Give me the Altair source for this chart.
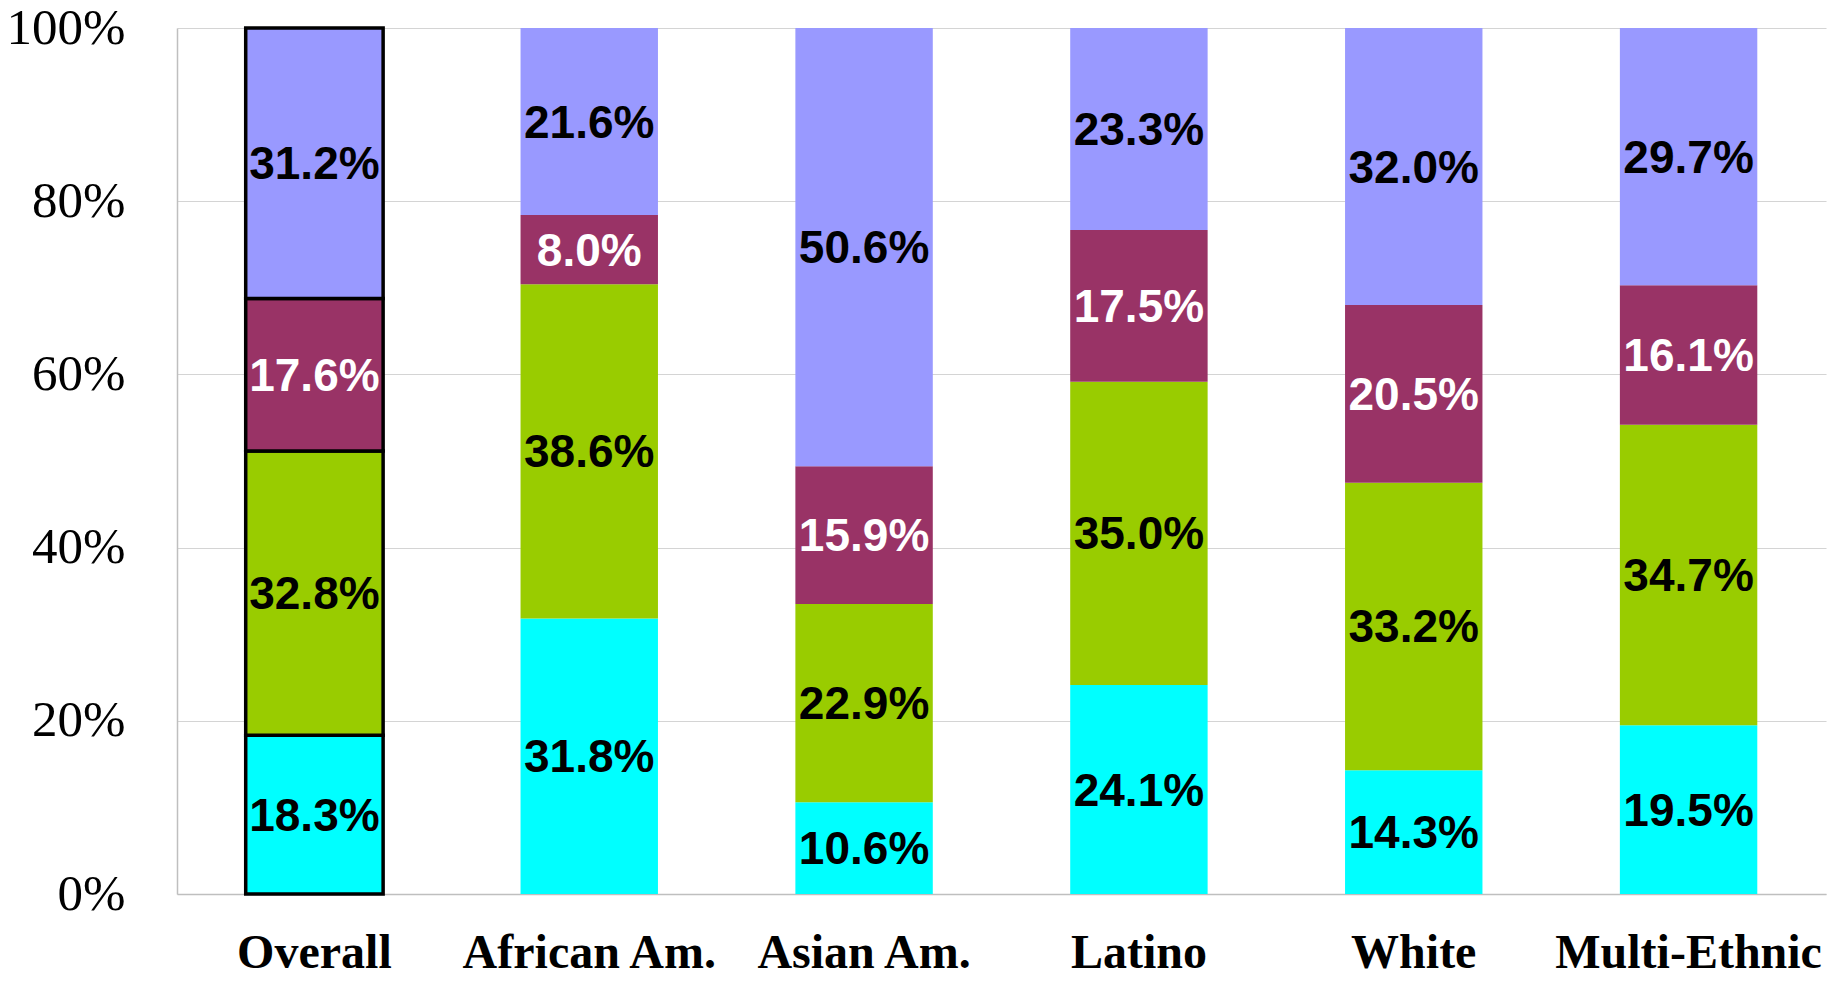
import altair as alt
import pandas as pd

categories = ["Overall", "African Am.", "Asian Am.", "Latino", "White", "Multi-Ethnic"]
series = ["Group 1", "Group 2", "Group 3", "Group 4"]
colors = ["#00FFFF", "#99CC00", "#993366", "#9999FF"]

s1 = [18.3, 31.8, 10.6, 24.1, 14.3, 19.5]
s2 = [32.8, 38.6, 22.9, 35.0, 33.2, 34.7]
s3 = [17.6, 8.0, 15.9, 17.5, 20.5, 16.1]
s4 = [31.2, 21.6, 50.6, 23.3, 32.0, 29.7]
y_ticks = [0, 0.2, 0.4, 0.6, 0.8, 1.0]

rows = []
for si, (name, vals) in enumerate(zip(series, [s1, s2, s3, s4])):
    for c, v in zip(categories, vals):
        rows.append({"category": c, "series": name, "order": si, "value": v})
df = pd.DataFrame(rows)

base = (
    alt.Chart(df)
    .transform_stack(
        stack="value",
        groupby=["category"],
        as_=["y0", "y1"],
        sort=[alt.SortField("order", order="ascending")],
        offset="normalize",
    )
    .transform_calculate(
        mid="(datum.y0 + datum.y1) / 2",
        label="format(datum.value, '.1f') + '%'",
    )
)

x_enc = alt.X(
    "category:N",
    sort=categories,
    scale=alt.Scale(paddingInner=0.5, paddingOuter=0.25),
    axis=alt.Axis(
        title=None,
        labelAngle=0,
        labelFont="Liberation Serif",
        labelFontWeight="bold",
        labelFontSize=48,
        labelColor="black",
        labelBaseline="alphabetic",
        labelPadding=73,
        labelLimit=0,
        labelOverlap=False,
        ticks=False,
        tickSize=0,
        domainColor="#bfbfbf",
        domainWidth=1.5,
        grid=False,
    ),
)

bars = base.mark_bar(stroke="black").encode(
    x=x_enc,
    y=alt.Y(
        "y0:Q",
        scale=alt.Scale(domain=[0, 1], nice=False),
        axis=alt.Axis(
            title=None,
            values=y_ticks,
            format="%",
            labelFont="Liberation Serif",
            labelFontSize=51,
            labelColor="black",
            labelPadding=52,
            ticks=False,
            tickSize=0,
            domainColor="#bfbfbf",
            domainWidth=1.5,
            grid=True,
            gridColor="#d4d4d4",
            gridWidth=1.2,
        ),
    ),
    y2="y1:Q",
    color=alt.Color("series:N", scale=alt.Scale(domain=series, range=colors), legend=None),
    strokeWidth=alt.condition("datum.category == 'Overall'", alt.value(3.5), alt.value(0)),
)

texts = base.mark_text(
    font="Liberation Sans", fontWeight="bold", fontSize=46, baseline="middle", dy=2
).encode(
    x=alt.X("category:N", sort=categories),
    y=alt.Y("mid:Q"),
    text="label:N",
    color=alt.condition("datum.series == 'Group 3'", alt.value("white"), alt.value("black")),
)

chart = (
    alt.layer(bars, texts)
    .properties(
        width=1649,
        height=866,
        autosize=alt.AutoSizeParams(type="none"),
        padding={"left": 169, "top": 20, "right": 1, "bottom": 84},
        background="white",
    )
    .configure_view(stroke=None)
)

chart.save("out.html", embed_options={"renderer": "svg", "actions": False})
